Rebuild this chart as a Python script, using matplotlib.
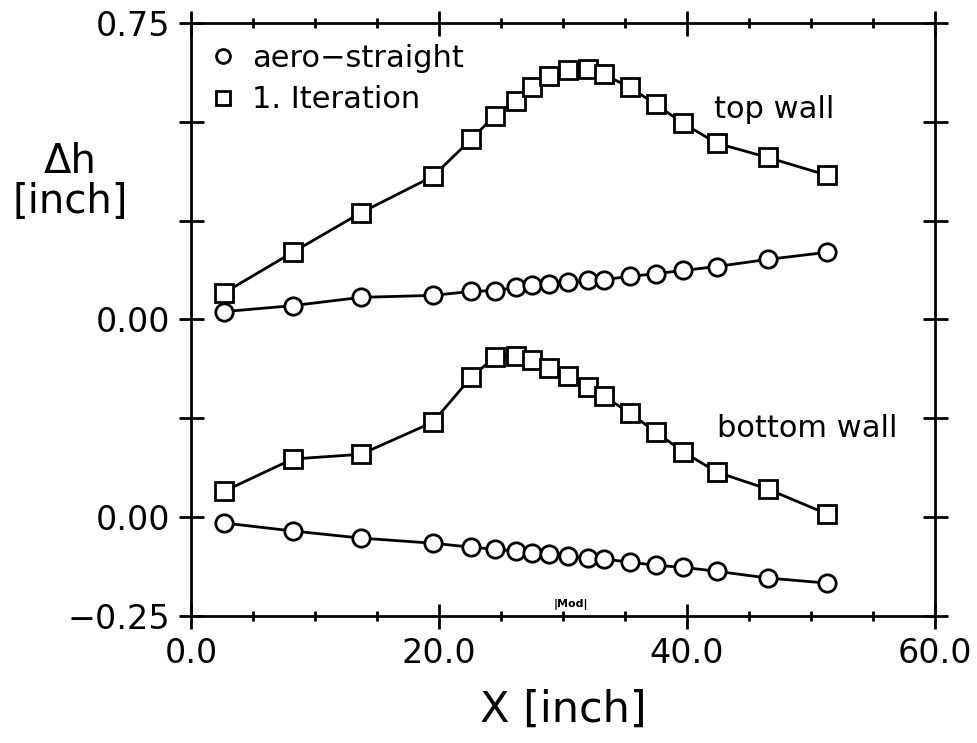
#!/usr/bin/env python3
"""
Wall contour change dh vs X for top and bottom wall (aero-straight vs 1. iteration).
"""

import matplotlib
matplotlib.use('Agg')
import matplotlib.pyplot as plt
from matplotlib.ticker import MultipleLocator

# Measurement stations along the test section [inch]
x = [2.7, 8.2, 13.7, 19.5, 22.6, 24.5, 26.2, 27.5, 28.9, 30.4,
     32.0, 33.3, 35.4, 37.5, 39.7, 42.4, 46.5, 51.3]

# Top wall dh [inch]
top_aero = [0.020, 0.035, 0.056, 0.061, 0.071, 0.073, 0.081, 0.086, 0.091, 0.094,
            0.099, 0.101, 0.109, 0.116, 0.124, 0.134, 0.152, 0.170]
top_iter1 = [0.068, 0.170, 0.270, 0.362, 0.456, 0.516, 0.554, 0.587, 0.615, 0.630,
             0.633, 0.620, 0.587, 0.544, 0.496, 0.446, 0.410, 0.365]

# Bottom wall dh [inch]
bot_aero = [-0.015, -0.035, -0.053, -0.066, -0.076, -0.081, -0.086, -0.091, -0.094, -0.099,
            -0.104, -0.106, -0.114, -0.122, -0.127, -0.137, -0.154, -0.167]
bot_iter1 = [0.066, 0.147, 0.159, 0.240, 0.354, 0.405, 0.408, 0.397, 0.377, 0.357,
             0.329, 0.306, 0.263, 0.215, 0.165, 0.114, 0.071, 0.008]

# top wall is drawn shifted upwards so both walls fit on one axis
top_offset = 0.5
ytick_pos = [-0.25, 0.0, 0.5, 1.25]
ytick_lab = ['\u22120.25', '0.00', '0.00', '0.75']

plt.rcParams['font.family'] = 'DejaVu Sans'

fig = plt.figure(figsize=(9.77, 7.43), dpi=100)
ax = fig.add_axes([0.1955, 0.171, 0.7615, 0.798])

mk = dict(color='black', markerfacecolor='white', markeredgecolor='black',
          markersize=12.5, markeredgewidth=2, linewidth=2)

ax.plot(x, [v + top_offset for v in top_aero], 'o-', **mk)
ax.plot(x, [v + top_offset for v in top_iter1], 's-', **mk)
ax.plot(x, bot_aero, 'o-', **mk)
ax.plot(x, bot_iter1, 's-', **mk)

# legend entries (markers only)
ax.plot([], [], 'o', label='aero\u2212straight', **dict(mk, markersize=10))
ax.plot([], [], 's', label='1. Iteration', **dict(mk, markersize=10))
ax.legend(loc='upper left', bbox_to_anchor=(0.016, 0.98), frameon=False,
          fontsize=22, handlelength=0.7, handletextpad=0.6, borderaxespad=0.0,
          labelspacing=0.4, borderpad=0.3)

ax.text(42.2, 0.53 + top_offset, 'top wall', fontsize=22, va='center')
ax.text(42.4, 0.225, 'bottom wall', fontsize=22, va='center')
ax.text(30.6, -0.228, '|Mod|', fontsize=8, fontweight='bold', ha='center')

ax.set_xlim(0, 60)
ax.set_ylim(-0.25, 1.25)
ax.set_xticks([0, 20, 40, 60])
ax.set_xticklabels(['0.0', '20.0', '40.0', '60.0'])
ax.xaxis.set_minor_locator(MultipleLocator(5))
ax.set_yticks(ytick_pos)
ax.set_yticklabels(ytick_lab)
ax.yaxis.set_minor_locator(MultipleLocator(0.25))

ax.tick_params(which='major', direction='inout', length=18, width=2,
               labelsize=24, top=True, right=True, pad=6)
ax.tick_params(which='minor', direction='inout', length=7, width=2,
               top=True, right=True)
ax.tick_params(axis='y', which='minor', length=18)
for s in ax.spines.values():
    s.set_linewidth(2)

ax.set_xlabel('X [inch]', fontsize=31, labelpad=14)
fig.text(0.072, 0.755, '\u0394h\n[inch]', fontsize=29, ha='center', va='center',
         linespacing=1.0)

plt.savefig('out.png', dpi=100)
print("Saved out.png")
